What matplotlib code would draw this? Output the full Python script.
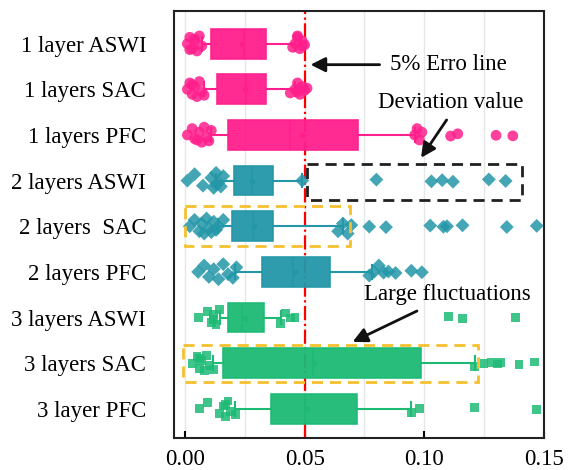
import matplotlib.pyplot as plt
import matplotlib.patches as mpatches
from matplotlib.ticker import MultipleLocator

plt.rcParams['font.family'] = ['Liberation Serif', 'DejaVu Serif']

# categories, top to bottom
labels = ['1 layer ASWI', '1 layers SAC', '1 layers PFC',
          '2 layers ASWI', '2 layers  SAC', '2 layers PFC',
          '3 layers ASWI', '3 layers SAC', '3 layer PFC']

# box statistics
q1 = [0.011, 0.0133, 0.018, 0.0205, 0.0196, 0.032, 0.018, 0.016, 0.036]
med = [0.0246, 0.0254, 0.044, 0.028, 0.0283, 0.045, 0.024, 0.0535, 0.050]
q3 = [0.034, 0.034, 0.0725, 0.0367, 0.0367, 0.0604, 0.033, 0.0987, 0.072]
means = [0.024, 0.025, 0.049, 0.028, 0.029, 0.046, 0.025, 0.054, 0.051]
whislo = [0.007, 0.008, 0.011, 0.013, 0.014, 0.021, 0.0145, 0.0115, 0.021]
whishi = [0.046, 0.046, 0.096, 0.049, 0.066, 0.078, 0.040, 0.121, 0.0946]

# individual points per row
pts = [
    [0.001, 0.002, 0.003, 0.004, 0.005, 0.006, 0.007, 0.002, 0.004,
     0.045, 0.046, 0.047, 0.048, 0.049, 0.050, 0.047, 0.049],
    [0.001, 0.002, 0.003, 0.004, 0.005, 0.006, 0.007, 0.008, 0.003,
     0.044, 0.046, 0.047, 0.048, 0.049, 0.050, 0.051, 0.047],
    [0.001, 0.003, 0.005, 0.006, 0.007, 0.008, 0.009, 0.010, 0.011, 0.004,
     0.096, 0.097, 0.098, 0.099, 0.111, 0.114, 0.130, 0.137],
    [0.001, 0.004, 0.0075, 0.011, 0.012, 0.013, 0.014, 0.015, 0.016, 0.013,
     0.049, 0.080, 0.103, 0.1075, 0.112, 0.127, 0.134],
    [0.002, 0.004, 0.006, 0.007, 0.008, 0.009, 0.010, 0.011, 0.012, 0.013,
     0.014, 0.016, 0.064, 0.066, 0.068, 0.0695, 0.077, 0.084, 0.1025,
     0.108, 0.1095, 0.116, 0.1345, 0.147],
    [0.0055, 0.008, 0.010, 0.012, 0.014, 0.016, 0.018, 0.020, 0.0215,
     0.077, 0.079, 0.081, 0.083, 0.085, 0.088, 0.0946, 0.099],
    [0.0055, 0.0095, 0.011, 0.012, 0.013, 0.0145, 0.012,
     0.040, 0.042, 0.044, 0.046, 0.110, 0.116, 0.138],
    [0.003, 0.005, 0.006, 0.007, 0.008, 0.009, 0.010, 0.012, 0.006,
     0.121, 0.125, 0.128, 0.1305, 0.132, 0.1396, 0.146],
    [0.006, 0.0095, 0.0145, 0.016, 0.017, 0.018, 0.019, 0.021, 0.017,
     0.0946, 0.098, 0.121, 0.147],
]

colors = ['#FF1F8C'] * 3 + ['#2397A8'] * 3 + ['#1DBA74'] * 3
markers = ['o'] * 3 + ['D'] * 3 + ['s'] * 3
msizes = [60, 60, 60, 50, 50, 50, 40, 40, 40]
jitter = [0.0, -0.14, 0.11, -0.06, 0.16, -0.17, 0.05, 0.13, -0.1, 0.08]

fig = plt.figure(figsize=(5.78, 4.70), dpi=100)
ax = fig.add_axes([0.301, 0.068, 0.640, 0.909])

ax.axvline(0.05, color='red', ls='-.', lw=1.6, zorder=1)

for i in range(len(labels)):
    c = colors[i]
    stats = [dict(q1=q1[i], med=med[i], q3=q3[i], mean=means[i],
                  whislo=whislo[i], whishi=whishi[i], fliers=[])]
    ax.bxp(stats, positions=[i], vert=False, widths=0.65, patch_artist=True,
           showmeans=True, showfliers=False, capwidths=0.3,
           boxprops=dict(facecolor=c, edgecolor=c, alpha=0.95, lw=1.2),
           medianprops=dict(color=c, lw=1.2),
           whiskerprops=dict(color=c, lw=1.5),
           capprops=dict(color=c, lw=1.5),
           meanprops=dict(marker='o', markerfacecolor=c, markeredgecolor=c,
                          markersize=3), manage_ticks=False)
    ys = []
    for k, x in enumerate(pts[i]):
        off = jitter[k % len(jitter)]
        if x > whishi[i] + 0.003:
            off *= 0.15
        ys.append(i + off)
    ax.scatter(pts[i], ys, s=msizes[i], marker=markers[i], color=c,
               alpha=0.85, edgecolors='none', zorder=3)

# dashed highlight boxes
ax.add_patch(mpatches.Rectangle((0.051, 2.63), 0.090, 0.79, fill=False,
                                ec='#231F20', ls=(0, (4, 2.5)), lw=2, zorder=4))
ax.add_patch(mpatches.Rectangle((0.0, 3.56), 0.069, 0.88, fill=False,
                                ec='#F5C02F', ls=(0, (4, 2.5)), lw=2, zorder=4))
ax.add_patch(mpatches.Rectangle((-0.001, 6.6), 0.1235, 0.82, fill=False,
                                ec='#F5C02F', ls=(0, (4, 2.5)), lw=2, zorder=4))

arrow = dict(arrowstyle='-|>', color='#111111', lw=2, mutation_scale=22)
ax.annotate('', xy=(0.0513, 0.46), xytext=(0.0825, 0.46), arrowprops=arrow)
ax.text(0.0855, 0.46, '5% Erro line', fontsize=16.5, va='center', ha='left')
ax.text(0.111, 1.29, 'Deviation value', fontsize=16.5, va='center', ha='center')
ax.annotate('', xy=(0.098, 2.55), xytext=(0.110, 1.62), arrowprops=arrow)
ax.text(0.1096, 5.5, 'Large fluctuations', fontsize=16.5, va='center', ha='center')
ax.annotate('', xy=(0.069, 6.56), xytext=(0.098, 5.83), arrowprops=arrow)

ax.set_xlim(-0.0046, 0.15)
ax.set_ylim(8.64, -0.72)
ax.set_yticks(range(len(labels)))
ax.set_yticklabels(labels, fontsize=16.5)
ax.xaxis.set_minor_locator(MultipleLocator(0.025))
ax.set_xticks([0.0, 0.05, 0.10, 0.15])
ax.set_xticklabels(['0.00', '0.05', '0.10', '0.15'], fontsize=16.5)
ax.grid(axis='x', which='both', color='#E6E6E6', lw=1, zorder=0)
ax.set_axisbelow(True)
ax.tick_params(axis='x', which='major', direction='in', length=5, width=1.5, pad=8)
ax.tick_params(axis='x', which='minor', length=0)
ax.tick_params(axis='y', length=0, pad=20)
for s in ax.spines.values():
    s.set_linewidth(1.5)
    s.set_color('#222222')

fig.savefig('out.png', dpi=100)
